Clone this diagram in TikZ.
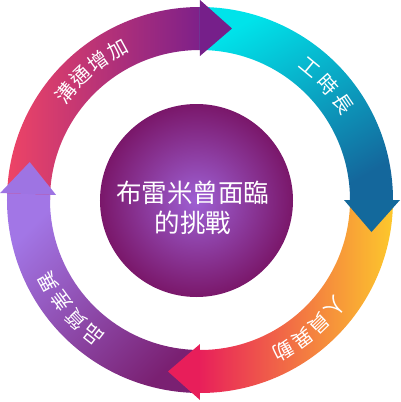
\documentclass[tikz,border=0pt]{standalone}
\usepackage{fontspec}
\newfontfamily\cjk{Noto Sans CJK TC}
\usetikzlibrary{calc}
\definecolor{pinkred}{HTML}{EE4466}
\definecolor{plumA}{HTML}{7E2089}
\definecolor{cyanA}{HTML}{00E3EA}
\definecolor{blueA}{HTML}{14679C}
\definecolor{yellowA}{HTML}{FDC82C}
\definecolor{roseA}{HTML}{E8205A}
\definecolor{lavA}{HTML}{A276E6}
\definecolor{plumB}{HTML}{7A2072}
\definecolor{headA}{HTML}{761F8A}
\definecolor{headB}{HTML}{13699C}
\definecolor{headC}{HTML}{E81E5A}
\definecolor{headD}{HTML}{9E74E3}
\definecolor{ballin}{HTML}{9E60D4}
\definecolor{ballout}{HTML}{7A176A}
\tikzset{
  lbl/.style={text=white, inner sep=0pt, font=\cjk\fontsize{20}{20}\selectfont},
  ctext/.style={text=white, inner sep=0pt, align=center, font=\cjk\fontsize{25.5}{30}\selectfont}
}
\newcommand{\ringbody}[2]{(#1:193) arc[start angle=#1, end angle=#2, radius=193] -- (#2:150) arc[start angle=#2, end angle=#1, radius=150] -- cycle}
\newcommand{\ringhead}[1]{(#1:200) -- ($(#1:171.5)+(#1-90:32)$) -- (#1:144) -- cycle}
\begin{document}
\begin{tikzpicture}[x=1pt,y=1pt]
\useasboundingbox (-200,-202) rectangle (201,200);
% bodies
\shade[left color=pinkred, right color=plumA] \ringbody{180}{90};
\shade[top color=cyanA, bottom color=blueA, shading angle=30] \ringbody{90}{0};
\shade[left color=roseA, right color=yellowA] \ringbody{0}{-90};
\shade[top color=lavA, bottom color=plumB, shading angle=45] \ringbody{-90}{-182};
% heads
\fill[headA] \ringhead{90};
\fill[headB] \ringhead{0};
\fill[headC] \ringhead{-90};
\fill[headD] \ringhead{-182};
% centre ball
\shade[inner color=ballin, outer color=ballout] (-3.5,-0.5) circle[radius=96.5];
\node[ctext] (title) at (-7,-7.5) {布雷米曾面臨\\的挑戰};
% ring labels
\foreach \c [count=\i] in {溝,通,增,加}
  \node[lbl, rotate={141.5-(\i-1)*7.6-90}] (a\i) at ({141.5-(\i-1)*7.6}:172) {\c};
\foreach \c [count=\i] in {工,時,長}
  \node[lbl, rotate={50.4-(\i-1)*8.2-90}] (b\i) at ({50.4-(\i-1)*8.2}:172) {\c};
\foreach \c [count=\i] in {人,員,異,動}
  \node[lbl, rotate={-38.3-(\i-1)*7.6-90}] (c\i) at ({-38.3-(\i-1)*7.6}:172) {\c};
\foreach \c [count=\i] in {品,質,差,異}
  \node[lbl, rotate={-128.5-(\i-1)*7.7-90}] (d\i) at ({-128.5-(\i-1)*7.7}:172) {\c};
\end{tikzpicture}
\end{document}
